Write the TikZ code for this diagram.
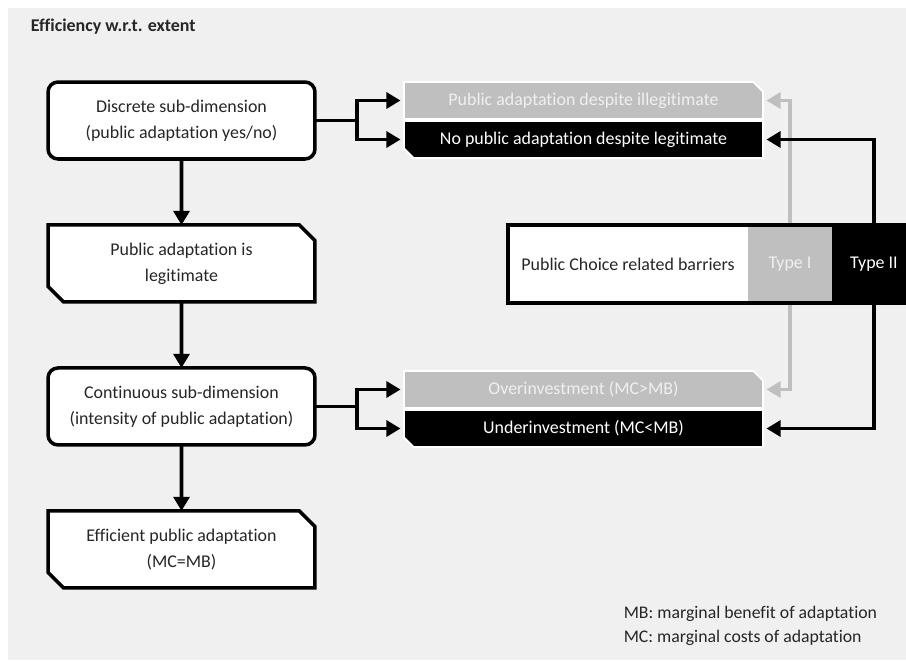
\documentclass[tikz,border=0pt]{standalone}
\usepackage{fontspec}
\setmainfont{Carlito}[Ligatures=NoCommon]
\usepackage{tikz}
\usetikzlibrary{arrows.meta,shapes.misc,positioning}

\definecolor{paper}{HTML}{F0F0F0}
\definecolor{lightbar}{HTML}{BFBFBF}
\definecolor{ink}{HTML}{262626}
\newcommand{\diagfont}{\fontsize{10.2}{14.7}\selectfont}

\begin{document}
\begin{tikzpicture}[x=0.02cm,y=-0.02cm,>={Triangle[length=8pt,width=9pt]},
	line width=2.2pt,font=\diagfont]
	
	\tikzstyle{stage}=[draw=black,line width=2pt,fill=white,text=ink,align=center,
	minimum width=5.34cm,minimum height=1.54cm,inner sep=2pt,outer sep=0pt]
	\tikzstyle{round stage}=[stage,rounded corners=0.2cm]
	\tikzstyle{cut stage}=[stage,chamfered rectangle,
	chamfered rectangle corners={north east,south west},chamfered rectangle xsep=0.2cm]
	\tikzstyle{outcome}=[draw=white,line width=1pt,minimum width=7.18cm,
	minimum height=0.74cm,inner sep=0pt,outer sep=0pt,chamfered rectangle,
	chamfered rectangle xsep=0.08cm]
	\tikzstyle{barrier}=[minimum height=1.56cm,inner sep=0pt,outer sep=0pt]
	\tikzstyle{greylink}=[draw=lightbar,line width=2pt,>={Triangle[length=8pt,width=9pt]}]
	
	% background
	\useasboundingbox (0,0) rectangle (906,660);
	\clip (0,0) rectangle (906,660);
	\fill[white] (0,0) rectangle (906,660);
	\fill[paper] (8,8) rectangle (906,660);
	
	\node[anchor=west,text=ink,font=\diagfont\bfseries] (title) at (23,27) {Efficiency w.r.t. extent};
	
	% left column
	\node[round stage] (disc) at (181.5,120.5) {Discrete sub-dimension\\(public adaptation yes/no)};
	\node[cut stage]   (legit) [below=1.32cm of disc] {Public adaptation is\\legitimate};
	\node[round stage] (cont)  [below=1.32cm of legit] {Continuous sub-dimension\\(intensity of public adaptation)};
	\node[cut stage]   (eff)   [below=1.32cm of cont] {Efficient public adaptation\\(MC=MB)};
	
	% outcomes
	\node[outcome,fill=lightbar,text=paper,chamfered rectangle corners=north east]
	(illeg) at (583.5,100.5) {Public adaptation despite illegitimate};
	\node[outcome,fill=black,text=white,chamfered rectangle corners=south west]
	(noadapt) at (583.5,139.5) {No public adaptation despite legitimate};
	\node[outcome,fill=lightbar,text=paper,chamfered rectangle corners=north east]
	(over) at (583.5,389.5) {Overinvestment (MC>MB)};
	\node[outcome,fill=black,text=white,chamfered rectangle corners=south west]
	(under) at (583.5,428.5) {Underinvestment (MC<MB)};
	
	% barriers
	\node[barrier,fill=white,text=ink,minimum width=4.8cm] (pcb) at (628,264) {Public Choice related barriers};
	\node[barrier,fill=lightbar,text=paper,minimum width=1.68cm] (typeI) [right=0pt of pcb] {Type I};
	\node[barrier,fill=black,text=white,minimum width=1.68cm] (typeII) [right=0pt of typeI] {Type II};
	
	% connectors
	\path[->] (disc) edge (legit)
	(legit) edge (cont)
	(cont) edge (eff);
	
	\coordinate[right=0.84cm of disc.east] (forkA);
	\coordinate[right=0.84cm of cont.east] (forkB);
	\draw (disc.east) -- (forkA);
	\draw[->,shorten >=2pt] (forkA) |- (illeg.west);
	\draw[->,shorten >=2pt] (forkA) |- (noadapt.west);
	\draw (cont.east) -- (forkB);
	\draw[->,shorten >=2pt] (forkB) |- (over.west);
	\draw[->,shorten >=2pt] (forkB) |- (under.west);
	
	\draw[greylink,->,shorten >=2pt] (typeI.north) |- (illeg.east);
	\draw[greylink,->,shorten >=2pt] (typeI.south) |- (over.east);
	\draw[->,shorten >=2pt] (typeII.north) |- (noadapt.east);
	\draw[->,shorten >=2pt] (typeII.south) |- (under.east);
	
	\draw[line width=2pt] (pcb.north west) rectangle (typeII.south east);
	
	% legend
	\node[anchor=west,text=ink,align=left,font=\fontsize{10.1}{13.6}\selectfont] (legend) at (616,626)
	{MB: marginal benefit of adaptation\\MC: marginal costs of adaptation};
\end{tikzpicture}
\end{document}
